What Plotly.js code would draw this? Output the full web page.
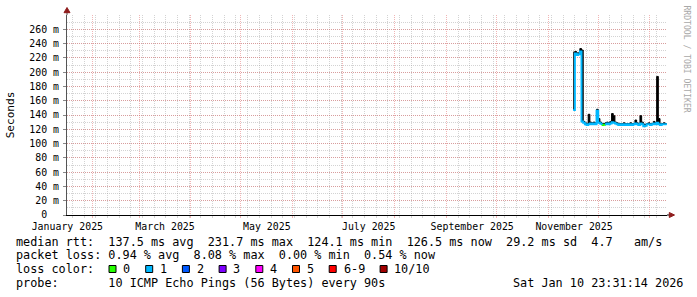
<!DOCTYPE html>
<html><head><meta charset="utf-8">
<script src="https://cdn.plot.ly/plotly-3.0.1.min.js"></script>
<style>html,body{margin:0;padding:0;background:#fff;}#chart{width:697px;height:297px;}</style>
</head><body><div id="chart"></div>
<script>
// ---------------- data ----------------
const dates = [
 '2025-11-16','2025-11-17','2025-11-18','2025-11-19','2025-11-20','2025-11-21','2025-11-22','2025-11-23',
 '2025-11-24','2025-11-25','2025-11-26','2025-11-27','2025-11-28','2025-11-29','2025-11-30',
 '2025-12-01','2025-12-02','2025-12-03','2025-12-04','2025-12-05','2025-12-06','2025-12-07','2025-12-08',
 '2025-12-09','2025-12-10','2025-12-11','2025-12-12','2025-12-13','2025-12-14','2025-12-15','2025-12-16',
 '2025-12-17','2025-12-18','2025-12-19','2025-12-20','2025-12-21','2025-12-22','2025-12-23','2025-12-24',
 '2025-12-25','2025-12-26','2025-12-27','2025-12-28','2025-12-29','2025-12-30','2025-12-31',
 '2026-01-01','2026-01-02','2026-01-03','2026-01-04','2026-01-05','2026-01-06','2026-01-07','2026-01-08',
 '2026-01-09','2026-01-10','2026-01-10 23:00'
];
// median round-trip time (ms)
const medianMs = [
 147,226,224,225,229,131,129,127,
 126,127,128,127,128,127,146,
 129,128,126,126.5,127,128,127,128,
 130,129,128,127,126,127,126,127,
 126,127,126,127,126,127,128,127,
 126,128,127,124.1,125,127,127,
 126,127,128,127,129,127,126,127,
 127,127,126.5
];
// highest ping of each period (ms) - the "smoke"
const maxMs = [
 228,229,227,227,233,231,131,129,
 128,141,130,129,130,129,148,
 135,130,128,128,129,130,129,131,
 142,139,130,129,128,128,128,129,
 128,128,128,129,128,128,133,129,
 128,139,130,127,127,128,129,
 128,128,131,129,194,135,128,128,
 129,128,128
];
// lost pings out of 10
const lossCount = [
 1,1,1,1,1,1,1,1,
 1,1,1,1,1,1,1,
 1,1,0,0,1,1,1,1,
 1,1,1,1,1,1,1,1,
 1,1,1,1,1,1,1,1,
 1,1,1,1,1,1,1,
 1,1,1,1,1,1,1,1,
 1,1,1
];
const lossLabels = ['0','1','2','3','4','5','6-9','10/10'];
const lossColors = ['#26ff00','#00b8ff','#0059ff','#7e00ff','#ff00ff','#ff5500','#ff0000','#a10000'];

const yTickVals = [0,20,40,60,80,100,120,140,160,180,200,220,240,260];
const yTickText = ['0  ','20 m','40 m','60 m','80 m','100 m','120 m','140 m','160 m','180 m','200 m','220 m','240 m','260 m'];
const xLabelDates = ['2025-01-17','2025-03-16 12:00','2025-05-16 12:00','2025-07-16 12:00','2025-09-16 12:00','2025-11-16 12:00'];
const xLabelText = ['January 2025','March 2025','May 2025','July 2025','September 2025','November 2025'];

const statRtt  = 'median rtt:  137.5 ms avg  231.7 ms max  124.1 ms min  126.5 ms now  29.2 ms sd  4.7   am/s';
const statLoss = 'packet loss: 0.94 % avg  8.08 % max  0.00 % min  0.54 % now';
const lossTitle = 'loss color:';
const probeText = 'probe:       10 ICMP Echo Pings (56 Bytes) every 90s';
const stampText = 'Sat Jan 10 23:31:14 2026';
const yTitle = 'Seconds';
const watermark = 'RRDTOOL / TOBI OETIKER';

// ---------------- helpers ----------------
const W = 697, H = 297, L = 67, R = 667, T = 15, B = 215;
const px = v => (v - L) / (R - L);
const py = v => (B - v) / (B - T);
const nb = s => s.replace(/ /g, '\u00a0');
const MONO = 'DejaVu Sans Mono';
const levelOf = c => c >= 10 ? 7 : (c >= 6 ? 6 : c);

// ---------------- traces ----------------
const traces = [];
traces.push({x: dates, y: medianMs, type: 'scatter', mode: 'lines', line: {width: 0, color: 'rgba(0,0,0,0)', shape: 'hv'},
  hoverinfo: 'skip', showlegend: false});
traces.push({x: dates, y: maxMs, type: 'scatter', mode: 'lines', fill: 'tonexty', fillcolor: '#000',
  line: {width: 1, color: '#000', shape: 'hv'}, hoverinfo: 'skip', showlegend: false});
lossLabels.forEach((lab, Lv) => {
  const y = medianMs.map((v, i) => (levelOf(lossCount[i]) === Lv || (i > 0 && levelOf(lossCount[i - 1]) === Lv)) ? v : null);
  if (y.every(v => v === null)) return;
  traces.push({x: dates, y, type: 'scatter', mode: 'lines', connectgaps: false,
    line: {width: 2, color: lossColors[Lv], shape: 'hv'}, hoverinfo: 'skip', showlegend: false});
});
traces.push({x: xLabelDates, y: xLabelDates.map(() => null), xaxis: 'x2', yaxis: 'y', type: 'scatter',
  mode: 'markers', hoverinfo: 'skip', showlegend: false});

// ---------------- decorations ----------------
const xStart = '2025-01-16 19:00', xEnd = '2026-01-11 04:40';
const majorGrid = 'rgba(222,90,90,0.45)';
const minorGrid = 'rgba(150,150,150,0.42)';
const arrowCol = '#8f1d1d';

const shapes = [
  {type: 'line', xref: 'paper', yref: 'paper', x0: 0, x1: 0, y0: 1, y1: py(12), line: {color: '#555', width: 1}},
  {type: 'path', xref: 'paper', yref: 'paper', path: `M ${px(64)} ${py(12.7)} L ${px(67)} ${py(7.5)} L ${px(70)} ${py(12.7)} Z`,
    fillcolor: arrowCol, line: {color: arrowCol, width: 1}},
  {type: 'line', xref: 'paper', yref: 'paper', x0: 1, x1: px(670), y0: 0, y1: 0, line: {color: '#000', width: 1}},
  {type: 'path', xref: 'paper', yref: 'paper', path: `M ${px(669.3)} ${py(212.5)} L ${px(674.5)} ${py(215)} L ${px(669.3)} ${py(217.5)} Z`,
    fillcolor: arrowCol, line: {color: arrowCol, width: 1}}
];

const CH = 7.1, LEG = 11.8;
const legX = 16;
const annotations = [];
const textLine = (txt, x, y, extra) => Object.assign({text: nb(txt), xref: 'paper', yref: 'paper', x: px(x), y: py(y),
  xanchor: 'left', yanchor: 'middle', showarrow: false, borderpad: 0, borderwidth: 0,
  font: {family: MONO, size: LEG, color: '#000'}}, extra || {});
annotations.push(textLine(statRtt, legX, 241.5));
annotations.push(textLine(statLoss, legX, 255.2));
annotations.push(textLine(lossTitle, legX, 269));
annotations.push(textLine(probeText, legX, 282.7));
annotations.push(textLine(stampText, 513.3, 282.7));

let sq = 109;
lossLabels.forEach((lab, i) => {
  shapes.push({type: 'rect', xref: 'paper', yref: 'paper', x0: px(sq), x1: px(sq + 7), y0: py(265.5), y1: py(272.5),
    fillcolor: lossColors[i], line: {color: '#000', width: 1}});
  const lx = sq + 14.3;
  annotations.push(textLine(lab, lx, 269));
  sq = lx + lab.length * CH + 15.3;
});

annotations.push({text: nb(watermark), xref: 'paper', yref: 'paper', x: px(686.5), y: py(59), textangle: 90,
  xanchor: 'center', yanchor: 'middle', showarrow: false, font: {family: MONO, size: 8.1, color: '#a8a8a8'}});

const layout = {
  width: W, height: H,
  margin: {l: L, r: W - R, t: T, b: H - B, pad: 0},
  paper_bgcolor: '#fff', plot_bgcolor: '#fff',
  showlegend: false,
  font: {family: MONO, size: 10, color: '#000'},
  xaxis: {type: 'date', range: [xStart, xEnd], tickmode: 'linear', tick0: '2025-01-01', dtick: 'M1',
    showticklabels: false, ticks: 'outside', ticklen: 2, tickcolor: majorGrid,
    showgrid: true, gridcolor: majorGrid, griddash: '1px,1px', gridwidth: 1,
    minor: {tickmode: 'linear', tick0: '2025-01-20', dtick: 7 * 86400000, showgrid: true, gridcolor: minorGrid,
      griddash: '1px,1px', gridwidth: 1, ticks: 'outside', ticklen: 2, tickcolor: minorGrid},
    showline: true, linecolor: '#000', linewidth: 1, zeroline: false, fixedrange: true},
  xaxis2: {type: 'date', overlaying: 'x', anchor: 'y', side: 'bottom', range: [xStart, xEnd],
    tickmode: 'array', tickvals: xLabelDates, ticktext: xLabelText, ticks: '', ticklabelstandoff: 4,
    showgrid: false, showline: false, zeroline: false, tickfont: {family: MONO, size: 9.9, color: '#000'}},
  yaxis: {range: [0, 280], tickmode: 'array', tickvals: yTickVals, ticktext: yTickText.map(nb),
    ticks: 'outside', ticklen: 3, tickcolor: '#888', ticklabelstandoff: 2,
    showgrid: true, gridcolor: majorGrid, griddash: '1px,1px', gridwidth: 1,
    minor: {tickmode: 'linear', tick0: 0, dtick: 10, showgrid: true, gridcolor: minorGrid, griddash: '1px,1px', gridwidth: 1},
    showline: true, linecolor: '#555', linewidth: 1, zeroline: false, fixedrange: true,
    tickfont: {family: MONO, size: 9.9, color: '#000'},
    title: {text: yTitle, standoff: 12, font: {family: MONO, size: 11.1, color: '#000'}}},
  shapes, annotations
};

Plotly.newPlot('chart', traces, layout, {displayModeBar: false, staticPlot: true});
</script>
</body></html>
